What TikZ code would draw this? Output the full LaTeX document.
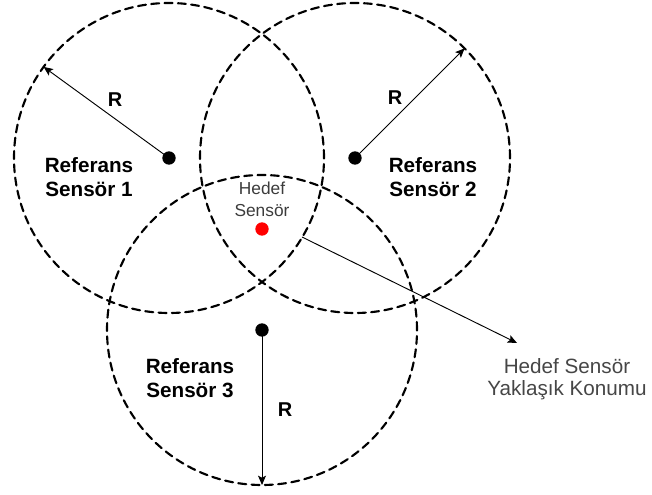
\documentclass[tikz,border=0pt]{standalone}
\usepackage{fontspec}
\setmainfont{Liberation Sans}
\usetikzlibrary{arrows.meta}
\definecolor{hedefgray}{RGB}{60,60,60}
\definecolor{notgray}{RGB}{70,70,70}
\begin{document}
\begin{tikzpicture}[x=0.75pt,y=0.75pt,line cap=round,line join=round,
    rangecircle/.style={line width=1.6pt,dash pattern=on 6pt off 4pt},
    dot/.style={circle,fill=black,inner sep=0pt,minimum size=10pt},
    reddot/.style={circle,fill=red,inner sep=0pt,minimum size=10pt},
    radius arrow/.style={-{Stealth[length=7pt,width=6pt,inset=1.5pt]},line width=0.7pt},
    reflabel/.style={align=center,font=\fontsize{15.5}{18.5}\selectfont\bfseries},
    rlabel/.style={font=\fontsize{15}{18}\selectfont\bfseries}]
  \useasboundingbox (0,0) rectangle (652,495);
  % referans sensorler ve hedef
  \node[dot] (s1) at (169,337) {};
  \node[dot] (s2) at (355,337) {};
  \node[dot] (s3) at (262,165) {};
  \node[reddot] (hs) at (262,266) {};
  % kapsama alanlari
  \draw[rangecircle] (s1.center) circle (155);
  \draw[rangecircle] (s2.center) circle (155);
  \draw[rangecircle] (s3.center) circle (155);
  % yaricap oklari
  \coordinate (r1) at ([shift={(144:155)}]s1.center);
  \coordinate (r2) at ([shift={(45:155)}]s2.center);
  \coordinate (r3) at ([shift={(270:155)}]s3.center);
  \draw[radius arrow] (s1.center) -- (r1);
  \draw[radius arrow] (s2.center) -- (r2);
  \draw[radius arrow] (s3.center) -- (r3);
  \node[rlabel] (R1) at (115,395) {R};
  \node[rlabel] (R2) at (395,397) {R};
  \node[rlabel] (R3) at (285,85) {R};
  % etiketler
  \node[reflabel] (ref1) at (89,318) {Referans\\Sensör 1};
  \node[reflabel] (ref2) at (433,318) {Referans\\Sensör 2};
  \node[reflabel] (ref3) at (190,117) {Referans\\Sensör 3};
  \node[align=center,text=hedefgray,font=\fontsize{13}{16.5}\selectfont] (hlbl) at (262,296) {Hedef\\Sensör};
  \node[align=center,text=notgray,font=\fontsize{15.5}{16.5}\selectfont] (yk) at (567,116) {Hedef Sensör\\Yaklaşık Konumu};
  % yaklasik konum oku
  \coordinate (yk0) at ([shift={(-30.7:155)}]s1.center);
  \coordinate (yk1) at (517,152);
  \draw[radius arrow] (yk0) -- (yk1);
\end{tikzpicture}
\end{document}
